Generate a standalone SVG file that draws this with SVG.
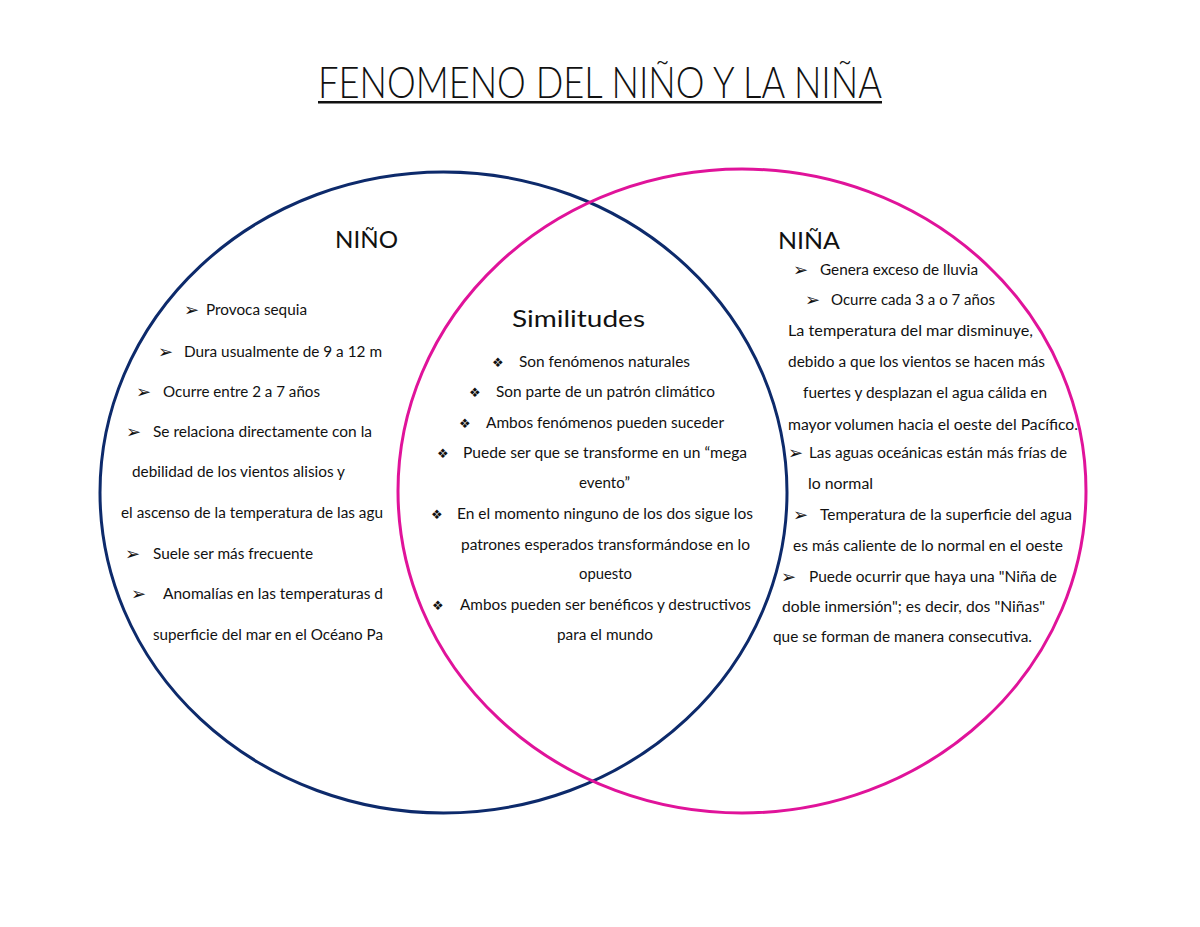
<svg xmlns="http://www.w3.org/2000/svg" width="1200" height="927" viewBox="0 0 1200 927">
<style>
text{font-family:Lato,"Open Sans","DejaVu Sans",sans-serif;fill:#111}
.b{font-size:14.5px}
.h{font-size:23px}
.s{font-size:24px}
.t{font-size:44px;font-weight:300}
.ar{font-family:"DejaVu Sans",sans-serif;font-size:18px}
.dm{font-family:"DejaVu Sans",sans-serif;font-size:13px}
.ring{fill:none;stroke-width:3}
</style>
<rect width="1200" height="927" fill="#fff"/>
<g id="title">
<text class="t" x="318" y="98" textLength="564" lengthAdjust="spacingAndGlyphs">FENOMENO DEL NIÑO Y LA NIÑA</text>
<rect x="318" y="101" width="564" height="2.5" fill="#111"/>
</g>
<g id="connectors"/>
<g id="nino">
<ellipse class="ring" cx="443.5" cy="492.5" rx="343.5" ry="320.5" stroke="#0d2a6b"/>
<text class="h" x="335" y="248" textLength="63" lengthAdjust="spacingAndGlyphs">NIÑO</text>
<text class="ar" x="184" y="316">➢</text><text class="b" x="206" y="315" textLength="101" lengthAdjust="spacingAndGlyphs">Provoca sequia</text>
<text class="ar" x="158" y="358">➢</text><text class="b" x="184" y="357" textLength="198" lengthAdjust="spacingAndGlyphs">Dura usualmente de 9 a 12 m</text>
<text class="ar" x="136" y="398">➢</text><text class="b" x="163" y="397" textLength="157" lengthAdjust="spacingAndGlyphs">Ocurre entre 2 a 7 años</text>
<text class="ar" x="126" y="438">➢</text><text class="b" x="153" y="437" textLength="219" lengthAdjust="spacingAndGlyphs">Se relaciona directamente con la</text>
<text class="b" x="132" y="477" textLength="213" lengthAdjust="spacingAndGlyphs">debilidad de los vientos alisios y</text>
<text class="b" x="121" y="518" textLength="262" lengthAdjust="spacingAndGlyphs">el ascenso de la temperatura de las agu</text>
<text class="ar" x="125" y="560">➢</text><text class="b" x="153" y="559" textLength="160" lengthAdjust="spacingAndGlyphs">Suele ser más frecuente</text>
<text class="ar" x="131" y="600">➢</text><text class="b" x="163" y="599" textLength="220" lengthAdjust="spacingAndGlyphs">Anomalías en las temperaturas d</text>
<text class="b" x="153" y="640" textLength="230" lengthAdjust="spacingAndGlyphs">superficie del mar en el Océano Pa</text>
</g>
<g id="nina">
<ellipse class="ring" cx="742" cy="491" rx="344" ry="322" stroke="#e0139a"/>
<text class="h" x="778" y="249" textLength="62" lengthAdjust="spacingAndGlyphs">NIÑA</text>
<text class="ar" x="793" y="276">➢</text><text class="b" x="820" y="275" textLength="158" lengthAdjust="spacingAndGlyphs">Genera exceso de lluvia</text>
<text class="ar" x="805" y="306">➢</text><text class="b" x="831" y="305" textLength="164" lengthAdjust="spacingAndGlyphs">Ocurre cada 3 a o 7 años</text>
<text class="b" x="788" y="336" textLength="245" lengthAdjust="spacingAndGlyphs">La temperatura del mar disminuye,</text>
<text class="b" x="788" y="367" textLength="257" lengthAdjust="spacingAndGlyphs">debido a que los vientos se hacen más</text>
<text class="b" x="803" y="398" textLength="244" lengthAdjust="spacingAndGlyphs">fuertes y desplazan el agua cálida en</text>
<text class="b" x="788" y="430" textLength="290" lengthAdjust="spacingAndGlyphs">mayor volumen hacia el oeste del Pacífico.</text>
<text class="ar" x="788" y="459">➢</text><text class="b" x="809" y="458" textLength="258" lengthAdjust="spacingAndGlyphs">Las aguas oceánicas están más frías de</text>
<text class="b" x="808" y="489" textLength="65" lengthAdjust="spacingAndGlyphs">lo normal</text>
<text class="ar" x="793" y="521">➢</text><text class="b" x="820" y="520" textLength="252" lengthAdjust="spacingAndGlyphs">Temperatura de la superficie del agua</text>
<text class="b" x="793" y="551" textLength="270" lengthAdjust="spacingAndGlyphs">es más caliente de lo normal en el oeste</text>
<text class="ar" x="781" y="583">➢</text><text class="b" x="809" y="582" textLength="248" lengthAdjust="spacingAndGlyphs">Puede ocurrir que haya una "Niña de</text>
<text class="b" x="782" y="612" textLength="263" lengthAdjust="spacingAndGlyphs">doble inmersión"; es decir, dos "Niñas"</text>
<text class="b" x="773" y="642" textLength="259" lengthAdjust="spacingAndGlyphs">que se forman de manera consecutiva.</text>
</g>
<g id="similitudes">
<text class="s" x="512" y="327" textLength="133" lengthAdjust="spacingAndGlyphs">Similitudes</text>
<text class="dm" x="492" y="367">❖</text><text class="b" x="519" y="367" textLength="171" lengthAdjust="spacingAndGlyphs">Son fenómenos naturales</text>
<text class="dm" x="469" y="397">❖</text><text class="b" x="496" y="397" textLength="219" lengthAdjust="spacingAndGlyphs">Son parte de un patrón climático</text>
<text class="dm" x="459" y="428">❖</text><text class="b" x="486" y="428" textLength="238" lengthAdjust="spacingAndGlyphs">Ambos fenómenos pueden suceder</text>
<text class="dm" x="437" y="458">❖</text><text class="b" x="463" y="458" textLength="284" lengthAdjust="spacingAndGlyphs">Puede ser que se transforme en un “mega</text>
<text class="b" x="579" y="488" textLength="51" lengthAdjust="spacingAndGlyphs">evento”</text>
<text class="dm" x="431" y="519">❖</text><text class="b" x="457" y="519" textLength="296" lengthAdjust="spacingAndGlyphs">En el momento ninguno de los dos sigue los</text>
<text class="b" x="461" y="550" textLength="289" lengthAdjust="spacingAndGlyphs">patrones esperados transformándose en lo</text>
<text class="b" x="579" y="579" textLength="53" lengthAdjust="spacingAndGlyphs">opuesto</text>
<text class="dm" x="432" y="610">❖</text><text class="b" x="460" y="610" textLength="291" lengthAdjust="spacingAndGlyphs">Ambos pueden ser benéficos y destructivos</text>
<text class="b" x="557" y="640" textLength="96" lengthAdjust="spacingAndGlyphs">para el mundo</text>
</g>
</svg>
